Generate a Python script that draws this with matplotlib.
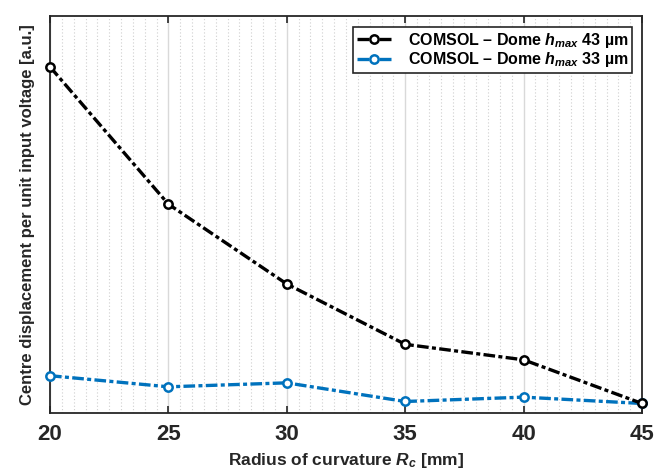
import numpy as np
import matplotlib.pyplot as plt
from matplotlib.lines import Line2D

plt.rcParams["font.family"] = ["Liberation Sans", "DejaVu Sans"]
plt.rcParams["mathtext.fontset"] = "custom"
plt.rcParams["mathtext.it"] = "Liberation Sans:italic:bold"
plt.rcParams["mathtext.rm"] = "Liberation Sans:bold"

# Raggio di curvatura [mm] e spostamento al centro (unità arbitrarie)
radius = [20, 25, 30, 35, 40, 45]
disp_h43 = [0.872, 0.526, 0.325, 0.173, 0.134, 0.024]
disp_h33 = [0.094, 0.066, 0.076, 0.029, 0.040, 0.024]

label_h43 = "COMSOL – Dome $h_{max}$ 43 µm"
label_h33 = "COMSOL – Dome $h_{max}$ 33 µm"

BLUE = "#0072BD"
DASHDOT = (0, (3.5, 1.0, 1.2, 1.0))

fig = plt.figure(figsize=(6.56, 4.75), dpi=100)
ax = fig.add_axes([0.0762, 0.1305, 0.9025, 0.8358])

style = dict(linestyle=DASHDOT, linewidth=2.4, marker="o", markersize=6,
             markerfacecolor="white", markeredgewidth=1.8)
ax.plot(radius, disp_h43, color="black", zorder=4, clip_on=False, **style)
ax.plot(radius, disp_h33, color=BLUE, zorder=3, clip_on=False, **style)

ax.set_xlim(20, 45)
ax.set_ylim(0, 1)
ax.set_xticks([20, 25, 30, 35, 40, 45])
ax.set_xticks(np.arange(20, 45.01, 0.5), minor=True)
ax.set_yticks([])

# griglia: principale continua, secondaria puntinata
ax.grid(True, which="major", axis="x", color="#D9D9D9", linewidth=1.0, zorder=0)
ax.grid(True, which="minor", axis="x", color="#CFCFCF", linewidth=0.8,
        linestyle=(0, (1, 2)), zorder=0)

ax.tick_params(axis="x", which="major", direction="in", length=5, width=1.2,
               top=True, colors="#262626", labelsize=16, pad=8)
ax.tick_params(axis="x", which="minor", length=0)
for lab in ax.get_xticklabels():
    lab.set_fontweight("bold")
for spine in ax.spines.values():
    spine.set_edgecolor("#262626")
    spine.set_linewidth(1.3)

ax.set_xlabel("Radius of curvature $R_c$ [mm]", fontsize=12.5,
              fontweight="bold", color="#262626", labelpad=4)
ax.set_ylabel("Centre displacement per unit input voltage [a.u.]",
              fontsize=12, fontweight="bold", color="#262626", labelpad=11)

handles = [Line2D([], [], color="black", **style),
           Line2D([], [], color=BLUE, **style)]
leg = ax.legend(handles, [label_h43, label_h33], loc="upper right",
                bbox_to_anchor=(0.983, 0.972), borderaxespad=0,
                fontsize=11.5, frameon=True, fancybox=False,
                edgecolor="#262626", framealpha=1, handlelength=2.2,
                handletextpad=1.0, borderpad=0.22, labelspacing=0.05)
leg.get_frame().set_linewidth(1.2)
for t in leg.get_texts():
    t.set_fontweight("bold")

fig.savefig("out.png", dpi=100, facecolor="white")
